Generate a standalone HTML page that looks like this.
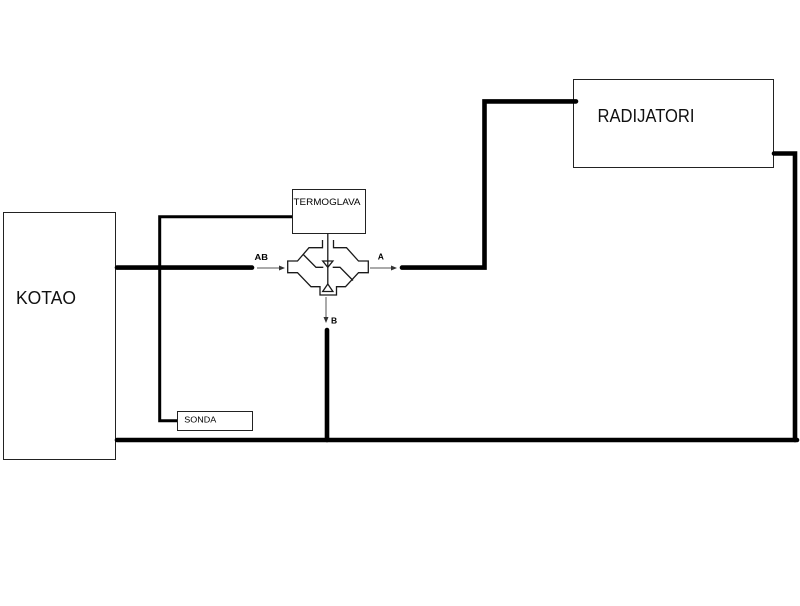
<!DOCTYPE html>
<html><head><meta charset="utf-8"><style>
html,body{margin:0;padding:0;background:#fff;}
svg{display:block;}
</style></head><body>
<svg width="800" height="606" viewBox="0 0 800 606" xmlns="http://www.w3.org/2000/svg">
<rect x="0" y="0" width="800" height="606" fill="#fff"/>
<!-- boxes -->
<g fill="none" stroke="#222" stroke-width="1">
<rect x="3.5" y="212.5" width="112" height="247"/>
<rect x="573.5" y="79.5" width="200" height="88"/>
<rect x="292.5" y="189.5" width="73" height="44"/>
<rect x="177.5" y="411.5" width="75" height="19"/>
</g>
<!-- thin wire -->
<polyline points="292,216.8 159.7,216.8 159.7,420.8 177,420.8" fill="none" stroke="#000" stroke-width="3"/>
<!-- thick pipes -->
<g fill="none" stroke="#000" stroke-width="4.6" stroke-linecap="round" stroke-linejoin="miter">
<polyline points="117,267.6 252,267.6"/>
<polyline points="402,267.6 484.5,267.6 484.5,101.4 576,101.4"/>
<polyline points="774,153.5 795,153.5 795,440"/>
<polyline points="117,440 797,440"/>
<polyline points="327,330 327,440"/>
</g>
<!-- valve -->
<g fill="none" stroke="#1a1a1a" stroke-width="1.3" stroke-linejoin="miter">
<polyline points="322.5,240 322.5,247.7 309,247.7 297.5,261 287.7,261 287.7,272.7 297.5,272.7 311,286.7 320,286.7 320,295 336.5,295 336.5,286.7 345.5,286.7 358.5,272.7 368.3,272.7 368.3,261 358.5,261 346.5,247.7 333.5,247.7 333.5,240"/>
<polyline points="303.3,254.5 316,267.3 323.3,267.3"/>
<polyline points="332.7,267.3 340,267.3 353,280.5"/>
<line x1="327.8" y1="233" x2="327.8" y2="284"/>
<polygon points="322.7,261 332.9,261 327.8,267.3"/>
<polygon points="327.8,284 322.7,291.5 332.9,291.5"/>
</g>
<!-- small arrows -->
<g stroke="#555" stroke-width="1" fill="#333">
<line x1="257" y1="268" x2="281" y2="268"/>
<polygon points="285,268 279,265.5 279,270.5" stroke="none"/>
<line x1="370" y1="268" x2="393" y2="268"/>
<polygon points="397,268 391,265.5 391,270.5" stroke="none"/>
<line x1="326" y1="297" x2="326" y2="319"/>
<polygon points="326,323 323.5,317 328.5,317" stroke="none"/>
</g>
<!-- labels -->
<g font-family="'Liberation Sans', Arial, sans-serif" fill="#000">
<text x="16" y="304" font-size="18" textLength="60" lengthAdjust="spacingAndGlyphs" fill="#111">KOTAO</text>
<text x="597.5" y="122" font-size="18" textLength="97" lengthAdjust="spacingAndGlyphs" fill="#111">RADIJATORI</text>
<text x="293.5" y="205" font-size="9.5" textLength="67" lengthAdjust="spacingAndGlyphs">TERMOGLAVA</text>
<text x="184.3" y="422.5" font-size="8" textLength="32" lengthAdjust="spacingAndGlyphs">SONDA</text>
<text x="254.5" y="260" font-size="8.5" font-weight="bold" textLength="13.5" lengthAdjust="spacingAndGlyphs">AB</text>
<text x="377.8" y="259.5" font-size="8.5" font-weight="bold">A</text>
<text x="331" y="323.5" font-size="8.5" font-weight="bold">B</text>
</g>
</svg>
</body></html>
